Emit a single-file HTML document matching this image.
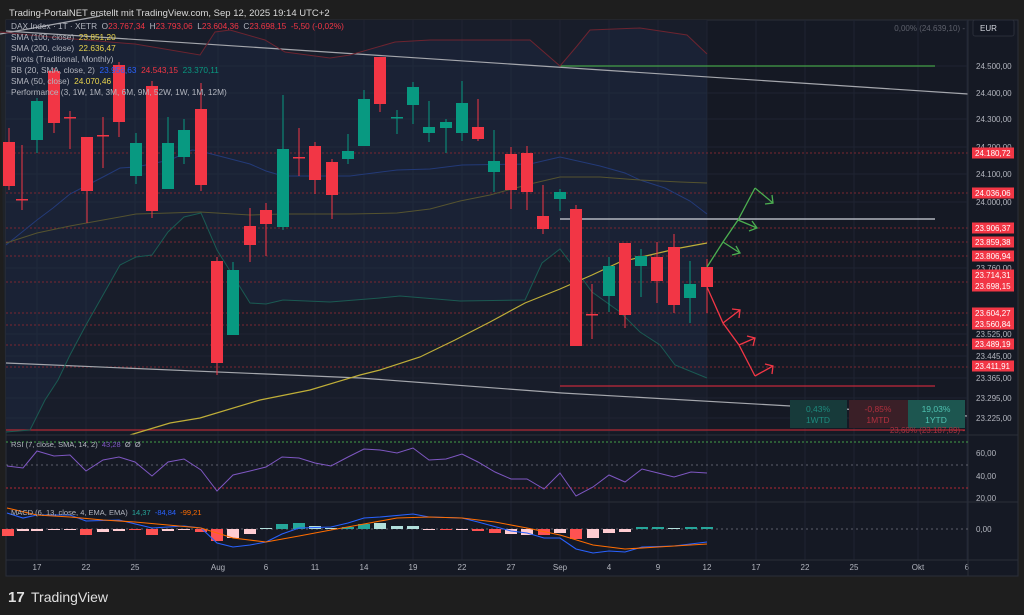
<!DOCTYPE html>
<html><head><meta charset="utf-8"><style>
html,body{margin:0;padding:0;background:#1e1e1e;width:1024px;height:615px;overflow:hidden;font-family:"Liberation Sans",sans-serif}
svg{position:absolute;left:0;top:0}
</style></head><body>
<svg id="s" width="1024" height="615" xmlns="http://www.w3.org/2000/svg" font-family="Liberation Sans, sans-serif"></svg>
<script>
const S=document.getElementById('s');let h='';
const P=(pts)=>pts.map(p=>p.join(',')).join(' ');
// frame
h+=`<text x="9" y="16" fill="#d9d9d9" font-size="9.5">Trading-PortalNET erstellt mit TradingView.com, Sep 12, 2025 19:14 UTC+2</text>`;
h+=`<rect x="6" y="20" width="1012" height="556" fill="#151924" stroke="#2a2e39"/>`;
h+=`<rect x="6" y="20" width="701" height="412" fill="#181d2a"/>`;
// grid
const tx=[[37,'17'],[86,'22'],[135,'25'],[218,'Aug'],[266,'6'],[315,'11'],[364,'14'],[413,'19'],[462,'22'],[511,'27'],[560,'Sep'],[609,'4'],[658,'9'],[707,'12'],[756,'17'],[805,'22'],[854,'25'],[918,'Okt'],[967,'6']];
tx.forEach(t=>{h+=`<line x1="${t[0]}" y1="20" x2="${t[0]}" y2="560" stroke="#1f2432" stroke-width="1"/>`;h+=`<text x="${t[0]}" y="570" fill="#b2b5be" font-size="8" text-anchor="middle">${t[1]}</text>`});
const gy=[[66,'24.500,00'],[93,'24.400,00'],[119,'24.300,00'],[147,'24.200,00'],[174,'24.100,00'],[202,'24.000,00'],[268,'23.760,00'],[334,'23.525,00'],[356,'23.445,00'],[378,'23.365,00'],[398,'23.295,00'],[418,'23.225,00']];
gy.forEach(g=>{h+=`<line x1="6" y1="${g[0]}" x2="968" y2="${g[0]}" stroke="#1f2432"/>`;h+=`<text x="976" y="${g[0]+3}" fill="#b2b5be" font-size="8">${g[1]}</text>`});
// BB fill
const up=[[0,32],[50,37],[110,42],[135,44],[200,55],[215,32],[230,30],[265,40],[285,52],[330,58],[350,55],[395,42],[430,40],[530,40],[560,66],[577,46],[590,30],[640,28],[687,35],[707,54]];
const lo=[[6,432],[30,430],[45,400],[58,380],[70,355],[86,325],[103,295],[120,265],[136,257],[152,255],[168,232],[184,217],[201,213],[217,250],[250,303],[266,304],[283,300],[330,302],[380,298],[400,296],[460,301],[525,300],[542,263],[560,249],[576,270],[592,292],[620,312],[640,332],[660,345],[675,365],[707,378]];
h+=`<polygon points="${P(up)} ${P(lo.slice().reverse())}" fill="rgba(60,110,200,0.07)"/>`;
// pivots
[153,193,228,242,256,282,313,325,345,367].forEach(y=>{h+=`<line x1="6" y1="${y}" x2="968" y2="${y}" stroke="#7a2631" stroke-dasharray="2,2" stroke-width="1"/>`});
// grey trend lines
h+=`<line x1="6" y1="31" x2="968" y2="94" stroke="#a5a7ad" stroke-width="1.2"/>`;
h+=`<line x1="0" y1="34" x2="100" y2="16" stroke="#a5a7ad" stroke-width="1.2"/>`;
h+=`<polyline points="6,363 360,378 562,393 967,416" fill="none" stroke="#a5a7ad" stroke-width="1.2"/>`;
h+=`<line x1="560" y1="66" x2="935" y2="66" stroke="#43a047" stroke-width="1.2"/>`;
h+=`<line x1="560" y1="219" x2="935" y2="219" stroke="#d1d4dc" stroke-width="1.2"/>`;
h+=`<line x1="560" y1="386" x2="935" y2="386" stroke="#c2283a" stroke-width="1.2"/>`;
h+=`<line x1="6" y1="430" x2="965" y2="430" stroke="#b22833" stroke-width="1.2"/>`;
// bands
h+=`<polyline points="${P(up)}" fill="none" stroke="#6d2430" stroke-width="1"/>`;
h+=`<polyline points="${P(lo)}" fill="none" stroke="#1a5a52" stroke-width="1"/>`;
const mid=[[6,245],[37,220],[53,208],[70,194],[103,177],[120,168],[136,167],[170,160],[192,150],[200,151],[250,164],[266,171],[283,176],[350,176],[397,170],[430,169],[462,165],[530,164],[560,157],[600,166],[625,173],[640,180],[665,188],[690,201],[707,214]];
h+=`<polyline points="${P(mid)}" fill="none" stroke="#233a78" stroke-width="1"/>`;
const s100=[[6,243],[37,233],[70,226],[103,220],[136,214],[170,213],[200,212],[250,215],[283,214],[350,214],[397,213],[430,209],[460,201],[490,195],[530,184],[560,177],[600,177],[640,180],[680,182],[707,183]];
h+=`<polyline points="${P(s100)}" fill="none" stroke="#55532f" stroke-width="1"/>`;
const s50=[[130,435],[170,423],[200,418],[260,400],[310,390],[360,375],[380,370],[420,357],[455,340],[490,322],[525,303],[560,289],[592,275],[620,262],[650,255],[680,248],[707,243]];
h+=`<polyline points="${P(s50)}" fill="none" stroke="#bfae38" stroke-width="1.2"/>`;
// candles [x,open,close,high,low] in px
const C=[[9,142,186,128,190],[22,199,199,145,210],[37,140,101,98,153],[54,71,123,68,133],[70,117,117,111,149],[87,137,191,137,223],[103,135,135,117,168],[119,65,122,62,137],[136,176,143,133,184],[152,86,211,81,218],[168,189,143,117,189],[184,157,130,119,164],[201,109,185,83,191],[217,261,363,257,375],[233,335,270,262,335],[250,226,245,208,262],[266,210,224,203,256],[283,227,149,95,230],[299,157,157,128,176],[315,146,180,142,194],[332,162,195,159,219],[348,159,151,134,164],[364,146,99,90,146],[380,57,104,57,112],[397,117,117,110,134],[413,105,87,82,124],[429,133,127,101,142],[446,128,122,119,153],[462,133,103,81,141],[478,127,139,99,141],[494,172,161,130,192],[511,154,190,147,209],[527,153,192,146,210],[543,216,229,185,234],[560,199,192,189,211],[576,209,346,205,346],[592,314,314,284,339],[609,296,266,257,312],[625,243,315,243,328],[641,266,256,249,297],[657,257,281,242,303],[674,247,305,234,313],[690,298,284,261,323],[707,267,287,259,313]];
C.forEach(c=>{const g=c[2]<c[1]||(c[2]==c[1]&&c[0]==397);const col=g?'#089981':'#f23645';const t=Math.min(c[1],c[2]),b=Math.max(c[1],c[2]);
h+=`<line x1="${c[0]}" y1="${c[3]}" x2="${c[0]}" y2="${c[4]}" stroke="${col}"/>`;
h+=`<rect x="${c[0]-6}" y="${t}" width="12" height="${Math.max(b-t,1.5)}" fill="${col}"/>`;});
// arrows
h+=`<g fill="none" stroke="#4caf50" stroke-width="1.3"><polyline points="707,267 723,242 738,220 755,188"/><polyline points="755,188 773,203"/><polyline points="765,204 773,203 772,195"/><polyline points="738,220 757,228"/><polyline points="749,231 757,228 752,221"/><polyline points="723,242 740,253"/><polyline points="732,255 740,253 736,246"/></g>`;
h+=`<g fill="none" stroke="#f23645" stroke-width="1.3"><polyline points="707,287 723,323 739,345 755,376"/><polyline points="723,323 740,310"/><polyline points="732,309 740,310 739,318"/><polyline points="739,345 755,338"/><polyline points="747,336 755,338 753,346"/><polyline points="755,376 773,366"/><polyline points="765,364 773,366 772,374"/></g>`;
// performance boxes
h+=`<rect x="790" y="400" width="57" height="28" fill="#173a3a"/><rect x="849" y="400" width="59" height="28" fill="#3a1f27"/><rect x="908" y="400" width="57" height="28" fill="#1d5650"/>`;
h+=`<g font-size="8.5" text-anchor="middle"><text x="818" y="412" fill="#1e8a7e">0,43%</text><text x="818" y="423" fill="#1e8a7e">1WTD</text><text x="878" y="412" fill="#b0303e">-0,85%</text><text x="878" y="423" fill="#b0303e">1MTD</text><text x="936" y="412" fill="#4fc2b1">19,03%</text><text x="936" y="423" fill="#4fc2b1">1YTD</text></g>`;
h+=`<text x="965" y="433" fill="#a83240" font-size="8" text-anchor="end">23,60% (23.187,89) -</text>`;
h+=`<text x="965" y="31" fill="#5d606b" font-size="8" text-anchor="end">0,00% (24.639,10) -</text>`;
// price axis labels
[[153,'24.180,72'],[193,'24.036,06'],[228,'23.906,37'],[242,'23.859,38'],[256,'23.806,94'],[275,'23.714,31'],[286,'23.698,15'],[313,'23.604,27'],[324,'23.560,84'],[344,'23.489,19'],[366,'23.411,91']].forEach(l=>{h+=`<rect x="972" y="${l[0]-5.5}" width="42" height="11" fill="#f23645"/><text x="975" y="${l[0]+3}" fill="#fff" font-size="8">${l[1]}</text>`});
h+=`<rect x="973" y="20" width="41" height="16" rx="2" fill="#131722" stroke="#2a2e39"/><text x="980" y="31" fill="#d1d4dc" font-size="8">EUR</text>`;
// legend
const L=[[`<tspan fill="#b2b5be">DAX Index · 1T · XETR  O</tspan><tspan fill="#f23645">23.767,34</tspan><tspan fill="#b2b5be">  H</tspan><tspan fill="#f23645">23.793,06</tspan><tspan fill="#b2b5be">  L</tspan><tspan fill="#f23645">23.604,36</tspan><tspan fill="#b2b5be">  C</tspan><tspan fill="#f23645">23.698,15  -5,50 (-0,02%)</tspan>`],
[`<tspan fill="#b2b5be">SMA (100, close)  </tspan><tspan fill="#e8d44d">23.851,20</tspan>`],
[`<tspan fill="#b2b5be">SMA (200, close)  </tspan><tspan fill="#e8d44d">22.636,47</tspan>`],
[`<tspan fill="#b2b5be">Pivots (Traditional, Monthly)</tspan>`],
[`<tspan fill="#b2b5be">BB (20, SMA, close, 2)  </tspan><tspan fill="#2962ff">23.956,63</tspan><tspan fill="#f23645">  24.543,15</tspan><tspan fill="#089981">  23.370,11</tspan>`],
[`<tspan fill="#b2b5be">SMA (50, close)  </tspan><tspan fill="#e8d44d">24.070,46</tspan>`],
[`<tspan fill="#b2b5be">Performance (3, 1W, 1M, 3M, 6M, 9M, 52W, 1W, 1M, 12M)</tspan>`]];
L.forEach((l,i)=>{h+=`<text x="11" y="${29+i*11}" font-size="8.3" xml:space="preserve">${l[0]}</text>`});
// panes
h+=`<line x1="6" y1="435" x2="1018" y2="435" stroke="#2a2e39"/><line x1="6" y1="502" x2="1018" y2="502" stroke="#2a2e39"/><line x1="6" y1="560" x2="1018" y2="560" stroke="#2a2e39"/><line x1="968" y1="20" x2="968" y2="576" stroke="#2a2e39"/>`;
h+=`<line x1="6" y1="442" x2="968" y2="442" stroke="#43a047" stroke-dasharray="2,2"/><line x1="6" y1="465" x2="968" y2="465" stroke="#5d606b" stroke-dasharray="2,3"/><line x1="6" y1="488" x2="968" y2="488" stroke="#b22833" stroke-dasharray="2,2"/>`;
[[453,'60,00'],[476,'40,00'],[498,'20,00'],[529,'0,00']].forEach(l=>{h+=`<text x="976" y="${l[0]+3}" fill="#b2b5be" font-size="8">${l[1]}</text>`});
h+=`<text x="11" y="447" font-size="7.5" xml:space="preserve"><tspan fill="#b2b5be">RSI (7, close, SMA, 14, 2)  </tspan><tspan fill="#7e57c2">43,28</tspan><tspan fill="#b2b5be">  Ø  Ø</tspan></text>`;
const rsi=[[7,466],[23,468],[37,451],[54,456],[70,455],[86,471],[103,460],[119,457],[135,462],[152,476],[168,462],[184,459],[201,470],[217,491],[233,475],[250,471],[266,467],[282,457],[299,458],[315,463],[331,466],[348,457],[364,449],[380,450],[397,453],[413,448],[429,460],[446,459],[462,454],[478,462],[495,472],[511,479],[527,479],[544,489],[560,473],[576,496],[593,487],[609,475],[625,482],[642,469],[658,473],[674,477],[691,472],[707,473]];
h+=`<polyline points="${P(rsi)}" fill="none" stroke="#7e57c2" stroke-width="1"/>`;
// MACD
h+=`<line x1="6" y1="529" x2="968" y2="529" stroke="#5d606b" stroke-dasharray="2,3"/>`;
const hist=[[8,-7,'r'],[23,-2,'p'],[37,-2,'p'],[54,-1,'p'],[70,-1,'p'],[86,-6,'r'],[103,-3,'p'],[119,-2,'p'],[135,-1,'r'],[152,-6,'r'],[168,-2,'p'],[184,-1,'p'],[201,-3,'r'],[217,-12,'r'],[233,-9,'p'],[250,-5,'p'],[266,1,'l'],[282,5,'t'],[299,6,'t'],[315,3,'l'],[331,1,'l'],[348,2,'t'],[364,5,'t'],[380,6,'l'],[397,3,'l'],[413,3,'l'],[429,-0.5,'p'],[446,-1,'r'],[462,-1,'p'],[478,-2,'r'],[495,-4,'r'],[511,-5,'p'],[527,-6,'p'],[544,-6,'r'],[560,-4,'p'],[576,-10,'r'],[593,-9,'p'],[609,-4,'p'],[625,-3,'p'],[642,2,'t'],[658,2,'t'],[674,1,'l'],[691,2,'t'],[707,2,'t']];
const hc={r:'#ff5252',p:'#ffcdd2',t:'#26a69a',l:'#b2dfdb'};
hist.forEach(b=>{const y=b[1]>0?529-b[1]:529;h+=`<rect x="${b[0]-6}" y="${y}" width="12" height="${Math.max(Math.abs(b[1]),1)}" fill="${hc[b[2]]}"/>`});
const mb=[[7,513],[23,518],[37,515],[70,515],[86,521],[119,520],[152,528],[184,526],[201,528],[217,543],[233,547],[250,545],[266,542],[282,534],[299,528],[331,527],[348,523],[364,518],[380,517],[413,514],[429,517],[462,518],[478,522],[511,531],[527,533],[544,538],[560,538],[576,549],[593,553],[609,551],[625,552],[642,547],[674,546],[707,542]];
const ms=[[7,508],[37,515],[70,517],[103,520],[135,522],[168,525],[201,528],[233,538],[266,542],[299,536],[331,530],[364,524],[397,518],[429,517],[462,518],[495,522],[527,528],[560,535],[593,545],[625,549],[658,547],[707,544]];
h+=`<polyline points="${P(mb)}" fill="none" stroke="#2962ff" stroke-width="1.1"/><polyline points="${P(ms)}" fill="none" stroke="#ff6d00" stroke-width="1.1"/>`;
h+=`<text x="11" y="515" font-size="7.5" xml:space="preserve"><tspan fill="#b2b5be">MACD (6, 13, close, 4, EMA, EMA)  </tspan><tspan fill="#26a69a">14,37</tspan><tspan fill="#2962ff">  -84,84</tspan><tspan fill="#ff6d00">  -99,21</tspan></text>`;
// footer logo
h+=`<text x="8" y="602" fill="#e0e0e0" font-size="15" font-weight="bold">17</text><text x="31" y="602" fill="#e0e0e0" font-size="14">TradingView</text>`;
S.innerHTML=h;
</script>
</body></html>
